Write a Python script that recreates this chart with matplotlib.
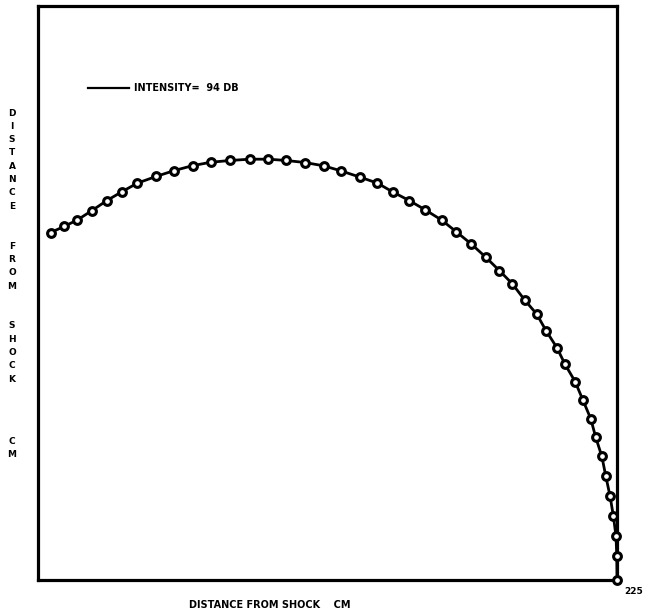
import matplotlib
matplotlib.use("Agg")
import matplotlib.pyplot as plt
from matplotlib.lines import Line2D

# Shock front outline: distance along shock (x) vs distance from shock (y), in cm
x_cm = [4.9, 10.2, 15.3, 20.9, 26.7, 32.5, 38.6, 45.9, 53.0, 60.1,
        67.1, 74.6, 82.4, 89.5, 96.4, 103.8, 111.1, 117.6, 125.2, 131.9,
        137.8, 144.3, 150.5, 156.9, 162.4, 168.3, 174.0, 179.3, 184.3, 189.1,
        193.8, 197.4, 201.6, 204.8, 208.7, 211.7, 214.8, 216.7, 219.1, 220.6,
        222.3, 223.6, 224.6, 224.9, 225.0]
y_cm = [135.0, 137.4, 139.9, 143.5, 147.4, 150.8, 154.2, 156.8, 159.1, 161.0,
        162.3, 163.0, 163.5, 163.5, 163.0, 162.2, 160.9, 159.0, 156.5, 154.2,
        150.8, 147.4, 143.8, 139.8, 135.4, 130.6, 125.4, 120.2, 115.1, 108.8,
        103.3, 96.9, 90.3, 83.8, 77.1, 70.0, 62.6, 55.5, 48.0, 40.5,
        32.5, 24.7, 17.0, 9.2, 0.0]

x_max = 225
y_max = 223
series_label = "INTENSITY=  94 DB"
x_title = "DISTANCE FROM SHOCK    CM"
y_words = ["DISTANCE", "FROM", "SHOCK", "CM"]

fig = plt.figure(figsize=(6.5, 6.16), dpi=100)
ax = fig.add_axes([0.0585, 0.0584, 0.8908, 0.9318])

ax.plot(x_cm, y_cm, color="black", linewidth=2.0, marker="o", markersize=5.6,
        markerfacecolor="white", markeredgecolor="black", markeredgewidth=2.2,
        clip_on=False, zorder=3)

ax.set_xlim(0, x_max)
ax.set_ylim(0, y_max)
ax.set_xticks([])
ax.set_yticks([])
for side in ["left", "right", "top", "bottom"]:
    ax.spines[side].set_linewidth(2.3)
    ax.spines[side].set_color("black")

# end value at the lower right corner
ax.annotate(str(x_max), xy=(x_max, 0), xytext=(5, -8), textcoords="offset points",
            ha="left", va="center", fontsize=6.5, fontweight="bold",
            family="DejaVu Sans", annotation_clip=False)

handle = Line2D([], [], color="black", linewidth=1.6)
leg = ax.legend([handle], [series_label], loc="center left",
                bbox_to_anchor=(0.086, 0.857), frameon=False, borderpad=0,
                borderaxespad=0, handlelength=4.2, handletextpad=0.6,
                prop={"size": 7, "weight": "bold", "family": "DejaVu Sans"})

# x-axis title
fig.text(0.415, 0.018, x_title, ha="center", va="center", fontsize=7,
         fontweight="bold", family="DejaVu Sans")

# y-axis title written as a column of letters
step_px = 13.3
gap_px = 40.0
y_px = 113.0
fig_h = 616.0
for wi, word in enumerate(y_words):
    for ci, ch in enumerate(word):
        fig.text(12 / 650.0, 1 - y_px / fig_h, ch, ha="center", va="center",
                 fontsize=6.5, fontweight="bold", family="DejaVu Sans")
        if ci < len(word) - 1:
            y_px += step_px
    y_px += gap_px if wi < 2 else 62.0

fig.savefig("out.png", dpi=100)
